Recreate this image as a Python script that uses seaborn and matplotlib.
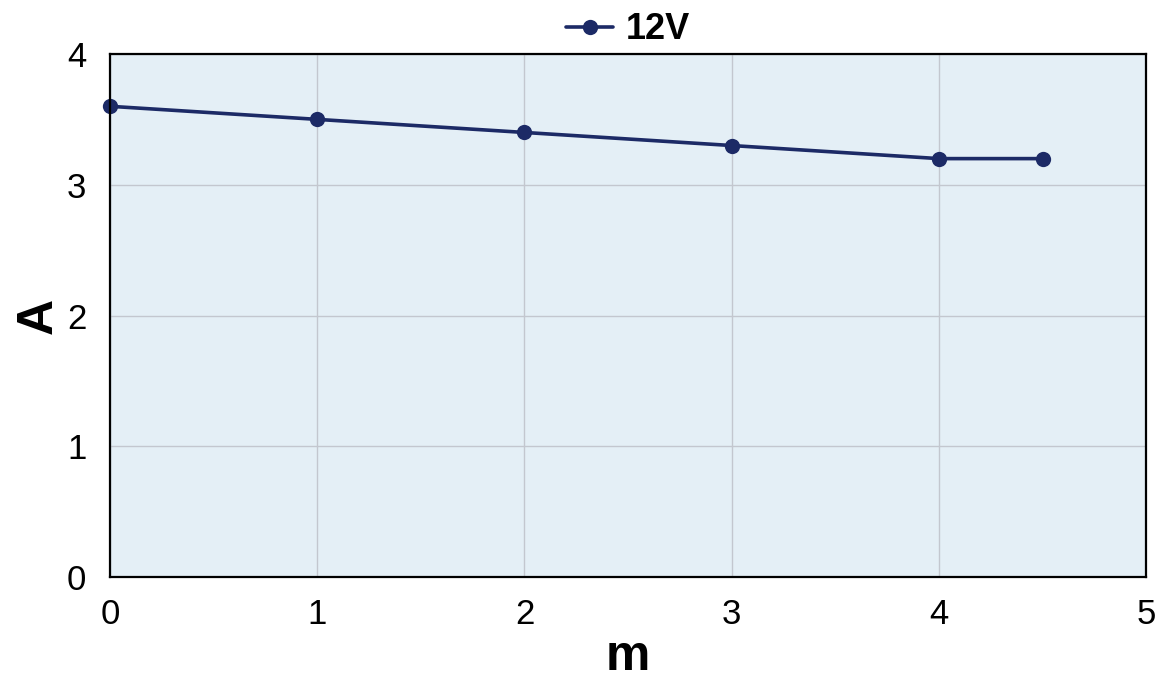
import matplotlib.pyplot as plt
import seaborn as sns
import pandas as pd

DISTANCE_M = [0, 1, 2, 3, 4, 4.5]
CURRENT_A = [3.6, 3.5, 3.4, 3.3, 3.2, 3.2]
SERIES = "12V"
LINE_COLOR = "#1c2a66"
BG_COLOR = "#e4eff6"

sns.set_style("whitegrid")
plt.rcParams["font.family"] = ["Liberation Sans", "DejaVu Sans"]
plt.rcParams["text.color"] = "black"
plt.rcParams["axes.labelcolor"] = "black"
plt.rcParams["xtick.color"] = "black"
plt.rcParams["ytick.color"] = "black"

df = pd.DataFrame({"m": DISTANCE_M, "A": CURRENT_A, "series": SERIES})

fig = plt.figure(figsize=(11.66, 6.79), dpi=100)
ax = fig.add_axes([0.0943, 0.150, 0.8887, 0.7705])
ax.set_facecolor(BG_COLOR)

sns.lineplot(data=df, x="m", y="A", hue="series", palette=[LINE_COLOR],
             marker="o", markersize=11, markeredgewidth=0, linewidth=2.6,
             clip_on=False, ax=ax)

ax.set_xlim(0, 5)
ax.set_ylim(0, 4)
ax.set_xticks(range(0, 6))
ax.set_yticks(range(0, 5))
ax.grid(True, color="#c3c7cf", linewidth=1)
ax.tick_params(axis="x", length=0, labelsize=25, pad=15)
ax.tick_params(axis="y", length=0, labelsize=25, pad=17)
for s in ax.spines.values():
    s.set_visible(True)
    s.set_color("black")
    s.set_linewidth(1.6)

ax.set_xlabel("m", fontsize=36, fontweight="bold", labelpad=2)
ax.set_ylabel("A", fontsize=36, fontweight="bold", labelpad=4)

leg = ax.legend(loc="lower center", bbox_to_anchor=(0.5, 0.985), frameon=False,
                prop={"size": 26, "weight": "bold"}, handlelength=1.3,
                handletextpad=0.35, borderaxespad=0)

fig.savefig("out.png", dpi=100)
